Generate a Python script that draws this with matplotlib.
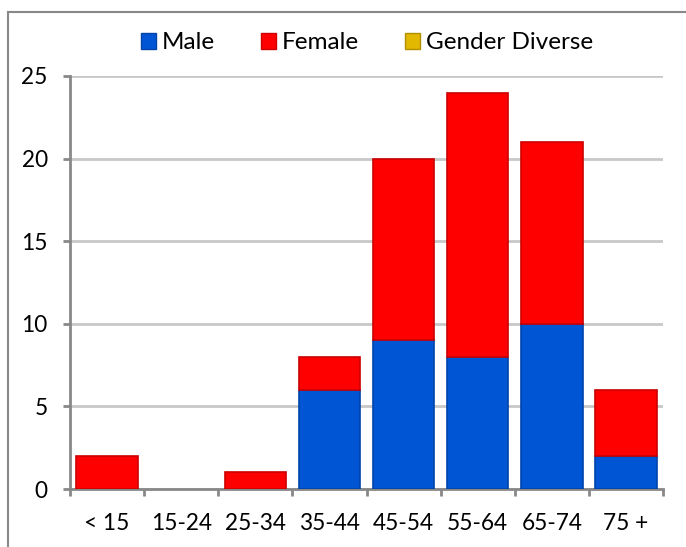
import matplotlib
matplotlib.use("Agg")
import matplotlib.pyplot as plt
from matplotlib.patches import Patch
from matplotlib.lines import Line2D
import numpy as np

plt.rcParams['font.family'] = ['Lato', 'DejaVu Sans']

age_groups = ["< 15", "15-24", "25-34", "35-44", "45-54", "55-64", "65-74", "75 +"]
male = [0, 0, 0, 6, 9, 8, 10, 2]
female = [2, 0, 1, 2, 11, 16, 11, 4]
gender_diverse = [0, 0, 0, 0, 0, 0, 0, 0]
y_ticks = [0, 5, 10, 15, 20, 25]

c_male = "#0055d4"
c_female = "#ff0000"
c_diverse = "#e2b800"


def edges(values, col):
    return [col if v > 0 else "none" for v in values]


fig = plt.figure(figsize=(6.86, 5.47), dpi=100)
ax = fig.add_axes([70 / 686, 1 - 489 / 547, (663 - 70) / 686, (489 - 76) / 547])

x = np.arange(len(age_groups))
w = 0.83
ax.bar(x, male, w, color=c_male, edgecolor=edges(male, "#0044aa"), linewidth=1.2, zorder=3)
ax.bar(x, female, w, bottom=male, color=c_female, edgecolor=edges(female, "#cc0000"),
       linewidth=1.2, zorder=3)
ax.bar(x, gender_diverse, w, bottom=np.add(male, female), color=c_diverse,
       edgecolor=edges(gender_diverse, "#b08f00"), linewidth=1.2, zorder=3)

ax.set_xlim(-0.5, len(age_groups) - 0.5)
ax.set_ylim(0, 25)
ax.set_yticks(y_ticks)
ax.yaxis.grid(True, color="#c8c8c8", linewidth=2)
ax.set_axisbelow(True)

ax.set_xticks(x)
ax.set_xticklabels(age_groups)
ax.set_xticks(np.arange(-0.5, len(age_groups)), minor=True)
ax.tick_params(axis="x", which="major", length=0, pad=17, labelsize=16.3)
ax.tick_params(axis="x", which="minor", length=5, width=2, color="#888888", direction="out")
ax.tick_params(axis="y", length=5, width=2, color="#888888", pad=11, labelsize=16.3)

for side in ("top", "right"):
    ax.spines[side].set_visible(False)
for side in ("left", "bottom"):
    ax.spines[side].set_color("#888888")
    ax.spines[side].set_linewidth(2)

handles = [Patch(facecolor=c_male, edgecolor="#0044aa"),
           Patch(facecolor=c_female, edgecolor="#cc0000"),
           Patch(facecolor=c_diverse, edgecolor="#b08f00")]
fig.legend(handles, ["Male", "Female", "Gender Diverse"], loc="center",
           bbox_to_anchor=(367 / 686, 1 - 43 / 547), ncol=3, frameon=False,
           fontsize=17.5, handlelength=0.6, handleheight=0.6, handletextpad=0.25,
           columnspacing=1.9)

# outer chart frame
frame_col = "#888888"
fig.add_artist(Line2D([8 / 686, 8 / 686], [0, 1 - 12 / 547], color=frame_col, linewidth=1.5))
fig.add_artist(Line2D([8 / 686, 1], [1 - 12 / 547, 1 - 12 / 547], color=frame_col, linewidth=1.5))

fig.savefig("out.png", dpi=100)
